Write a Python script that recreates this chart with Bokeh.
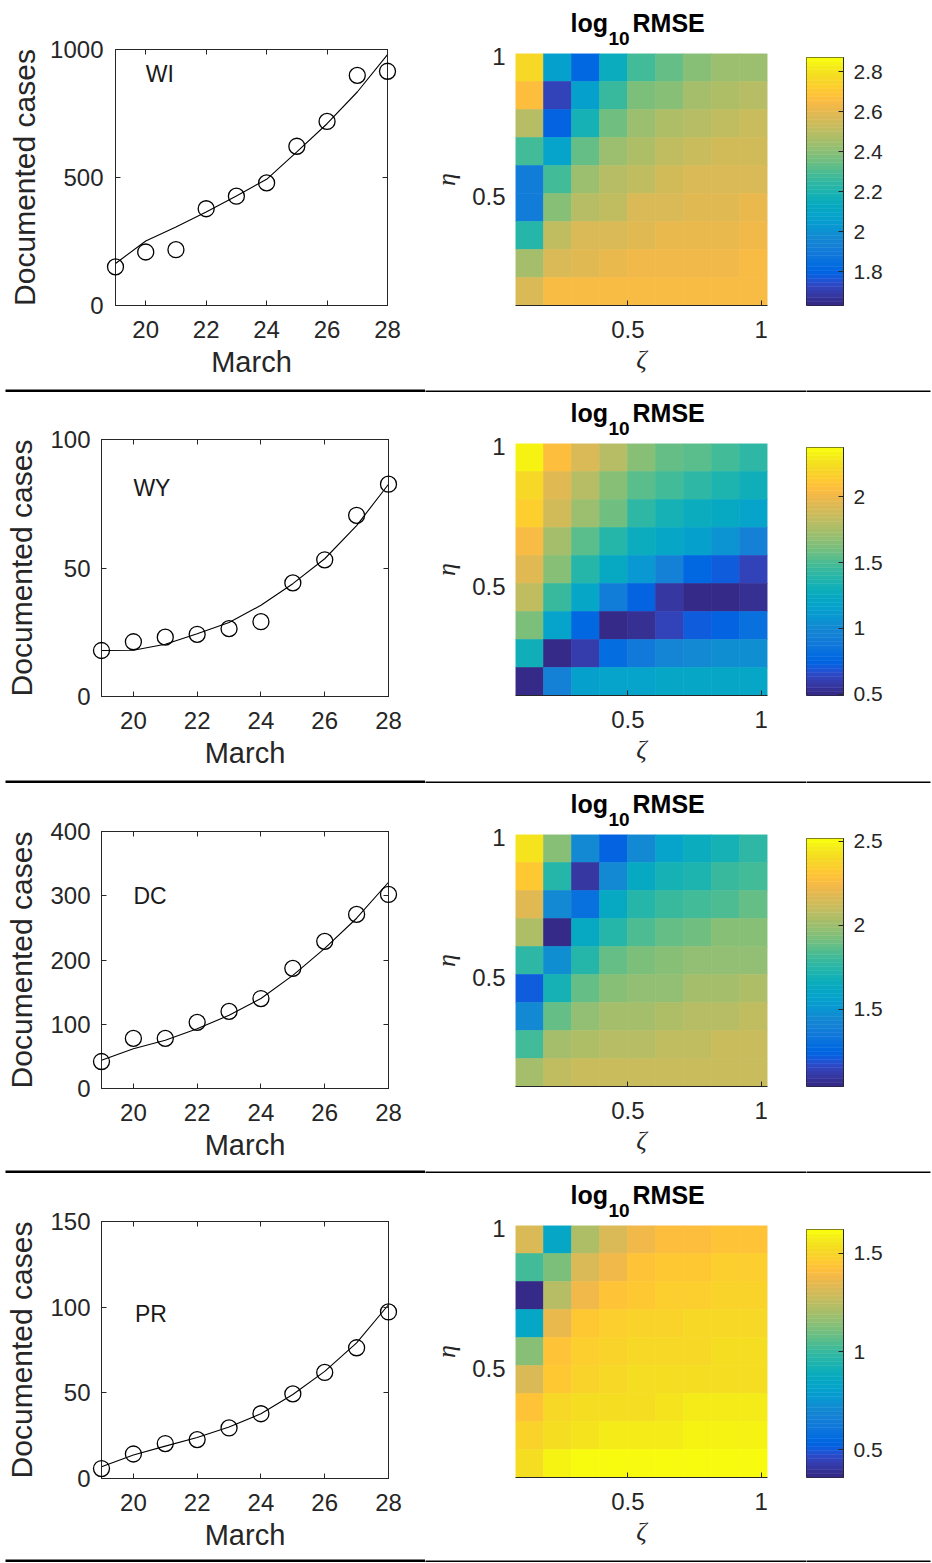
from bokeh.plotting import figure
from bokeh.layouts import column, row
from bokeh.models import (LinearAxis, FixedTicker, Label, LinearColorMapper,
                          CustomJSTickFormatter, Range1d, ColumnDataSource)
from bokeh.core.properties import value
from bokeh.embed import file_html
from bokeh.resources import INLINE

# ---------------- data ----------------
days = [19, 20, 21, 22, 23, 24, 25, 26, 27, 28]

wi_obs = [151, 209, 218, 378, 427, 479, 622, 719, 899, 915]
wi_fit = [164, 252, 307, 365, 428, 493, 600, 710, 834, 980]
wy_obs = [17.9, 21.3, 23.1, 24.2, 26.4, 29.1, 44.2, 53.2, 70.5, 82.6]
wy_fit = [17.9, 18.0, 20.3, 24.4, 28.8, 35.5, 43.9, 53.6, 66.5, 82.6]
dc_obs = [42, 78, 78, 103, 120, 140, 187, 229, 271, 302]
dc_fit = [44, 62, 75, 93, 114, 140, 176, 218, 265, 321]
pr_obs = [5.8, 14.3, 20.4, 22.7, 29.5, 37.8, 49.4, 61.9, 76.3, 97.2]
pr_fit = [6.9, 13.7, 18.9, 23.9, 30.1, 37.8, 49.0, 62.5, 79.2, 101.4]

states = ["WI", "WY", "DC", "PR"]
y_max = [1000, 100, 400, 150]
y_ticks = [[0, 500, 1000], [0, 50, 100], [0, 100, 200, 300, 400], [0, 50, 100, 150]]
label_pos = [(20.0, 903), (20.0, 81), (20.0, 299), (20.05, 96)]
x_ticks = [20, 22, 24, 26, 28]

zeta = [0.131, 0.236, 0.341, 0.446, 0.551, 0.656, 0.761, 0.866, 0.971]
eta = [0.16, 0.26, 0.36, 0.46, 0.56, 0.66, 0.76, 0.86, 0.96]

# rows listed from top (eta high) to bottom (eta low)
wi_rmse = [
    [2.77, 2.07, 1.82, 2.15, 2.28, 2.34, 2.40, 2.43, 2.44],
    [2.66, 1.72, 2.07, 2.25, 2.38, 2.40, 2.45, 2.47, 2.50],
    [2.50, 1.80, 2.19, 2.36, 2.43, 2.47, 2.50, 2.52, 2.54],
    [2.28, 2.09, 2.34, 2.43, 2.47, 2.52, 2.54, 2.55, 2.55],
    [1.91, 2.27, 2.43, 2.49, 2.52, 2.55, 2.56, 2.57, 2.57],
    [1.91, 2.39, 2.49, 2.52, 2.56, 2.57, 2.58, 2.59, 2.60],
    [2.23, 2.51, 2.56, 2.56, 2.58, 2.60, 2.60, 2.61, 2.62],
    [2.45, 2.57, 2.59, 2.60, 2.62, 2.62, 2.62, 2.63, 2.64],
    [2.57, 2.64, 2.64, 2.64, 2.64, 2.64, 2.64, 2.64, 2.64],
]
wy_rmse = [
    [2.32, 2.07, 1.92, 1.79, 1.66, 1.56, 1.53, 1.47, 1.41],
    [2.22, 1.96, 1.81, 1.66, 1.55, 1.48, 1.41, 1.36, 1.30],
    [2.15, 1.89, 1.70, 1.58, 1.41, 1.33, 1.28, 1.23, 1.19],
    [2.05, 1.75, 1.55, 1.39, 1.28, 1.21, 1.15, 1.07, 0.96],
    [1.94, 1.64, 1.39, 1.23, 1.09, 0.94, 0.77, 0.72, 0.62],
    [1.83, 1.45, 1.21, 0.92, 0.74, 0.55, 0.51, 0.51, 0.54],
    [1.62, 1.19, 0.77, 0.49, 0.54, 0.62, 0.72, 0.75, 0.83],
    [1.30, 0.51, 0.60, 0.79, 0.90, 0.98, 1.00, 1.04, 1.04],
    [0.49, 0.96, 1.15, 1.19, 1.19, 1.20, 1.20, 1.20, 1.20],
]
dc_rmse = [
    [2.44, 1.94, 1.44, 1.23, 1.44, 1.59, 1.64, 1.70, 1.76],
    [2.32, 1.75, 1.10, 1.44, 1.62, 1.69, 1.73, 1.79, 1.81],
    [2.19, 1.44, 1.31, 1.63, 1.74, 1.78, 1.82, 1.84, 1.88],
    [2.04, 1.04, 1.62, 1.74, 1.83, 1.88, 1.91, 1.94, 1.94],
    [1.76, 1.47, 1.75, 1.88, 1.93, 1.95, 1.97, 1.98, 1.98],
    [1.22, 1.70, 1.88, 1.95, 1.97, 1.98, 2.01, 2.01, 2.04],
    [1.44, 1.87, 1.97, 2.01, 2.02, 2.04, 2.06, 2.07, 2.08],
    [1.81, 2.01, 2.04, 2.07, 2.07, 2.10, 2.10, 2.11, 2.11],
    [2.01, 2.08, 2.11, 2.12, 2.12, 2.12, 2.12, 2.12, 2.12],
]
pr_rmse = [
    [1.31, 0.85, 1.22, 1.32, 1.37, 1.41, 1.42, 1.44, 1.44],
    [1.02, 1.12, 1.31, 1.38, 1.44, 1.45, 1.46, 1.47, 1.48],
    [0.36, 1.24, 1.38, 1.44, 1.46, 1.48, 1.48, 1.49, 1.49],
    [0.84, 1.35, 1.45, 1.48, 1.49, 1.50, 1.51, 1.51, 1.52],
    [1.13, 1.43, 1.48, 1.50, 1.51, 1.51, 1.52, 1.53, 1.53],
    [1.32, 1.46, 1.49, 1.51, 1.53, 1.53, 1.54, 1.54, 1.54],
    [1.44, 1.51, 1.53, 1.54, 1.54, 1.56, 1.57, 1.57, 1.57],
    [1.50, 1.54, 1.56, 1.57, 1.57, 1.58, 1.59, 1.59, 1.59],
    [1.53, 1.59, 1.61, 1.61, 1.61, 1.61, 1.61, 1.61, 1.61],
]
clim = [(1.63, 2.87), (0.49, 2.375), (1.04, 2.515), (0.36, 1.62)]
cbar_ticks = [[1.8, 2.0, 2.2, 2.4, 2.6, 2.8], [0.5, 1.0, 1.5, 2.0], [1.5, 2.0, 2.5], [0.5, 1.0, 1.5]]

# ---------------- style ----------------
PARULA_RGB = [
    (0.2081, 0.1663, 0.5292), (0.2116, 0.1898, 0.5777), (0.2123, 0.2138, 0.6270), (0.2081, 0.2386, 0.6771),
    (0.1959, 0.2645, 0.7279), (0.1707, 0.2919, 0.7792), (0.1253, 0.3242, 0.8303), (0.0591, 0.3598, 0.8683),
    (0.0117, 0.3875, 0.8820), (0.0060, 0.4086, 0.8828), (0.0165, 0.4266, 0.8786), (0.0329, 0.4430, 0.8720),
    (0.0498, 0.4586, 0.8641), (0.0629, 0.4737, 0.8554), (0.0723, 0.4887, 0.8467), (0.0779, 0.5040, 0.8384),
    (0.0793, 0.5200, 0.8312), (0.0749, 0.5375, 0.8263), (0.0641, 0.5570, 0.8240), (0.0488, 0.5772, 0.8228),
    (0.0343, 0.5966, 0.8199), (0.0265, 0.6137, 0.8135), (0.0239, 0.6287, 0.8038), (0.0231, 0.6418, 0.7913),
    (0.0228, 0.6535, 0.7768), (0.0267, 0.6642, 0.7607), (0.0384, 0.6743, 0.7436), (0.0590, 0.6838, 0.7254),
    (0.0843, 0.6928, 0.7062), (0.1133, 0.7015, 0.6859), (0.1453, 0.7098, 0.6646), (0.1801, 0.7177, 0.6424),
    (0.2178, 0.7250, 0.6193), (0.2586, 0.7317, 0.5954), (0.3022, 0.7376, 0.5712), (0.3482, 0.7424, 0.5473),
    (0.3953, 0.7459, 0.5244), (0.4420, 0.7481, 0.5033), (0.4871, 0.7491, 0.4840), (0.5300, 0.7491, 0.4661),
    (0.5709, 0.7485, 0.4494), (0.6099, 0.7473, 0.4337), (0.6473, 0.7456, 0.4188), (0.6834, 0.7435, 0.4044),
    (0.7184, 0.7411, 0.3905), (0.7525, 0.7384, 0.3768), (0.7858, 0.7356, 0.3633), (0.8185, 0.7327, 0.3498),
    (0.8507, 0.7299, 0.3360), (0.8824, 0.7274, 0.3217), (0.9139, 0.7258, 0.3063), (0.9450, 0.7261, 0.2886),
    (0.9739, 0.7314, 0.2666), (0.9938, 0.7455, 0.2403), (0.9990, 0.7653, 0.2164), (0.9955, 0.7861, 0.1967),
    (0.9880, 0.8066, 0.1794), (0.9789, 0.8271, 0.1633), (0.9697, 0.8481, 0.1475), (0.9626, 0.8705, 0.1309),
    (0.9589, 0.8949, 0.1132), (0.9598, 0.9218, 0.0948), (0.9661, 0.9514, 0.0755), (0.9763, 0.9831, 0.0538),
]
PARULA = ["#%02x%02x%02x" % tuple(int(round(c * 255)) for c in rgb) for rgb in PARULA_RGB]

FONT = "Liberation Sans"
TC = "#262626"
FMT = CustomJSTickFormatter(code="return String(Number(tick.toFixed(3)));")
BLANK = CustomJSTickFormatter(code="return '';")

PAGE_W = 932
LEFT_W = 425
HEAT_W = 381
CB_W = PAGE_W - LEFT_W - HEAT_W

row_h = [392, 391, 390, 389]          # each row includes its 3px separator at the bottom
left_top = [49, 47, 48, 48]
left_fh = [256, 257, 257, 257]
heat_top = [53, 51, 51, 52]
HEAT_FH = 252
CB_FH = 248
ZR = (0.0785, 1.0235)
ER = (0.11, 1.01)


def make_conv(b_left, frame_w, xr, b_top, frame_h, yr):
    """canvas pixel -> data coordinate converters for a figure (used for decoration only)"""
    def fx(cx):
        return xr[0] + (cx - b_left) * (xr[1] - xr[0]) / frame_w

    def fy(cy):
        return yr[1] - (cy - b_top) * (yr[1] - yr[0]) / frame_h
    return fx, fy


def add_separator(p, conv, cx0, cx1, cy0, cy1):
    fx, fy = conv
    p.quad(left=[fx(cx0)], right=[fx(cx1)], top=[fy(cy0)], bottom=[fy(cy1)],
           fill_color="black", line_color=None, level="overlay")


def style_axis(ax, ticks, size="24px"):
    ax.ticker = FixedTicker(ticks=ticks)
    ax.axis_line_color = TC
    ax.major_tick_line_color = TC
    ax.minor_tick_line_color = None
    ax.major_tick_in = 5
    ax.major_tick_out = 0
    ax.major_label_text_font = FONT
    ax.major_label_text_font_size = size
    ax.major_label_text_color = TC
    ax.axis_label_text_font = FONT
    ax.axis_label_text_font_size = "29px"
    ax.axis_label_text_font_style = "normal"
    ax.axis_label_text_color = TC


def left_plot(i, obs, fit):
    height = row_h[i]
    b_top = left_top[i]
    frame_h = left_fh[i]
    b_left = 115 if i == 0 else 101
    frame_w = 272 if i == 0 else 287
    xr = (19, 28)
    yr = (0, y_max[i])
    p = figure(width=LEFT_W, height=height, x_range=Range1d(*xr), y_range=Range1d(*yr),
               output_backend="svg", toolbar_location=None, frame_align=False,
               min_border_left=b_left, min_border_right=LEFT_W - b_left - frame_w,
               min_border_top=b_top, min_border_bottom=height - b_top - frame_h)
    p.grid.visible = False
    p.outline_line_color = TC
    style_axis(p.xaxis[0], x_ticks)
    style_axis(p.yaxis[0], y_ticks[i])
    p.xaxis[0].axis_label = "March"
    p.yaxis[0].axis_label = "Documented cases"
    p.yaxis[0].axis_label_text_font_size = "30px"
    p.xaxis[0].major_label_standoff = 15
    p.xaxis[0].axis_label_standoff = 5
    p.yaxis[0].major_label_standoff = 12 if i == 0 else 11
    p.yaxis[0].axis_label_standoff = 6 if i == 0 else 9
    top = LinearAxis(formatter=BLANK)
    style_axis(top, x_ticks, "1px")
    top.major_label_standoff = 0
    right = LinearAxis(formatter=BLANK)
    style_axis(right, y_ticks[i], "1px")
    right.major_label_standoff = 0
    p.add_layout(top, "above")
    p.add_layout(right, "right")
    p.line(days, fit, line_color="black", line_width=1.1)
    p.scatter(days, obs, marker="circle", size=16, fill_color=None, line_color="black",
              line_width=1.3, level="overlay")
    lx, ly = label_pos[i]
    p.add_layout(Label(x=lx, y=ly, text=states[i], text_font=FONT, text_font_size="23px",
                       text_color="#1a1a1a", text_align="left", text_baseline="alphabetic"))
    conv = make_conv(b_left, frame_w, xr, b_top, frame_h, yr)
    add_separator(p, conv, 5, LEFT_W, height - 3, height)
    return p


def heat_plot(i, mat):
    height = row_h[i]
    b_top = heat_top[i]
    lo, hi = clim[i]
    p = figure(width=HEAT_W, height=height, x_range=Range1d(*ZR), y_range=Range1d(*ER),
               output_backend="svg", toolbar_location=None, frame_align=False,
               min_border_left=90, min_border_right=HEAT_W - 90 - 252,
               min_border_top=b_top, min_border_bottom=height - b_top - HEAT_FH)
    p.grid.visible = False
    p.outline_line_color = None
    xs, ys, vs = [], [], []
    n = len(eta)
    for r, vals in enumerate(mat):
        for c, v in enumerate(vals):
            xs.append(zeta[c])
            ys.append(eta[n - 1 - r])
            vs.append(v)
    src = ColumnDataSource(dict(x=xs, y=ys, v=vs))
    mapper = LinearColorMapper(palette=PARULA, low=lo, high=hi)
    dz = zeta[1] - zeta[0]
    de = eta[1] - eta[0]
    p.rect(x="x", y="y", width=dz, height=de, source=src,
           fill_color={"field": "v", "transform": mapper},
           line_color={"field": "v", "transform": mapper}, line_width=0.6)
    style_axis(p.xaxis[0], [0.5, 1.0])
    style_axis(p.yaxis[0], [0.5, 1.0])
    for ax in (p.xaxis[0], p.yaxis[0]):
        ax.formatter = FMT
        ax.axis_label_text_font = "Liberation Serif"
        ax.axis_label_text_font_style = "italic"
        ax.axis_label_text_font_size = "26px"
    p.xaxis[0].axis_label = "ζ"
    p.yaxis[0].axis_label = "η"
    p.xaxis[0].major_label_standoff = 15
    p.xaxis[0].axis_label_standoff = 4
    p.yaxis[0].major_label_standoff = 10
    p.yaxis[0].axis_label_standoff = 8
    p.yaxis[0].axis_line_color = None
    p.yaxis[0].major_tick_line_color = None

    conv = make_conv(90, 252, ZR, b_top, HEAT_FH, ER)
    fx, fy = conv
    # title "log10RMSE" drawn as text glyphs above the frame
    p.text(x=[fx(145), fx(207)], y=[fy(b_top - 30.5)] * 2, text=["log", "RMSE"],
           text_font=value(FONT), text_font_size="25px", text_font_style="bold",
           text_color="black", text_baseline="alphabetic", text_align="left", level="overlay")
    p.text(x=[fx(183)], y=[fy(b_top - 15.5)], text=["10"],
           text_font=value(FONT), text_font_size="19px", text_font_style="bold",
           text_color="black", text_baseline="alphabetic", text_align="left", level="overlay")
    add_separator(p, conv, 0, HEAT_W, height - 2, height)
    return p


def cbar_plot(i):
    height = row_h[i]
    b_top = heat_top[i] + 4
    lo, hi = clim[i]
    p = figure(width=CB_W, height=height, x_range=Range1d(0, 1), y_range=Range1d(lo, hi),
               output_backend="svg", toolbar_location=None, x_axis_location=None,
               y_axis_location="right", frame_align=False,
               min_border_left=0, min_border_right=CB_W - 37,
               min_border_top=b_top, min_border_bottom=height - b_top - CB_FH)
    p.grid.visible = False
    p.outline_line_color = TC
    n = len(PARULA)
    step = (hi - lo) / n
    bottoms = [lo + k * step for k in range(n)]
    tops = [lo + (k + 1) * step for k in range(n)]
    p.quad(left=0, right=1, bottom=bottoms, top=tops, fill_color=PARULA, line_color=PARULA,
           line_width=0.5)
    ax = p.yaxis[0]
    style_axis(ax, cbar_ticks[i], "21px")
    ax.formatter = FMT
    ax.major_label_standoff = 10
    conv = make_conv(0, 37, (0, 1), b_top, CB_FH, (lo, hi))
    add_separator(p, conv, 0, 124, height - 2, height)
    return p


obs_all = [wi_obs, wy_obs, dc_obs, pr_obs]
fit_all = [wi_fit, wy_fit, dc_fit, pr_fit]
mats = [wi_rmse, wy_rmse, dc_rmse, pr_rmse]

items = []
for i in range(4):
    lp = left_plot(i, obs_all[i], fit_all[i])
    hp = heat_plot(i, mats[i])
    cp = cbar_plot(i)
    items.append(row(lp, hp, cp, spacing=0))

layout = column(*items, spacing=0)

open("out.html", "w").write(file_html(layout, INLINE))
